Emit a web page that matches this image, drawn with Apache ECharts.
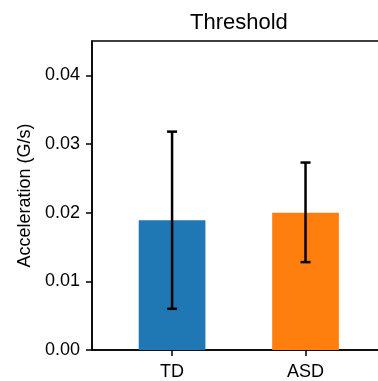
<!DOCTYPE html>
<html>
<head>
<meta charset="utf-8">
<script src="https://cdn.jsdelivr.net/npm/echarts@6/dist/echarts.min.js"></script>
<style>html,body{margin:0;padding:0;background:#fff;}#c{width:378px;height:381px;}</style>
</head>
<body>
<div id="c"></div>
<script>
var categories = ['TD', 'ASD'];
var means = [0.0189, 0.0200];
var errLow = [0.0060, 0.0128];
var errHigh = [0.0318, 0.0273];
var colors = ['#1f77b4', '#ff7f0e'];
var yTicks = [0, 0.01, 0.02, 0.03, 0.04];
var xPositions = [0, 1];

var font = 'Liberation Sans, Arial, sans-serif';
var chart = echarts.init(document.getElementById('c'));

var barData = means.map(function (m, i) {
  return { value: [xPositions[i], m], itemStyle: { color: colors[i] } };
});
var errData = means.map(function (m, i) {
  return [xPositions[i], errLow[i], errHigh[i]];
});

chart.setOption({
  animation: false,
  backgroundColor: '#fff',
  title: {
    text: 'Threshold',
    left: 190,
    top: 12,
    padding: 0,
    textStyle: { fontFamily: font, fontSize: 22, fontWeight: 'normal', color: '#000' }
  },
  grid: {
    left: 92, top: 41, width: 293.6, bottom: 31,
    outerBoundsMode: 'none',
    containLabel: false,
    show: true, borderColor: '#000', borderWidth: 1.5, backgroundColor: 'transparent'
  },
  xAxis: {
    type: 'value',
    min: -0.6, max: 1.6,
    axisLine: { show: true, onZero: false, lineStyle: { color: '#000', width: 1.5 } },
    axisTick: { show: true, length: 6, lineStyle: { color: '#000', width: 1.5 }, customValues: xPositions },
    axisLabel: {
      show: true, customValues: xPositions, margin: 13,
      fontFamily: font, fontSize: 18, color: '#000',
      formatter: function (v) { var i = xPositions.indexOf(v); return i >= 0 ? categories[i] : ''; }
    },
    splitLine: { show: false }
  },
  yAxis: {
    type: 'value',
    min: 0, max: 0.045,
    name: 'Acceleration (G/s)',
    nameLocation: 'middle',
    nameGap: 58,
    nameTextStyle: { fontFamily: font, fontSize: 18, color: '#000' },
    axisLine: { show: true, onZero: false, lineStyle: { color: '#000', width: 1.5 } },
    axisTick: { show: true, length: 6, lineStyle: { color: '#000', width: 1.5 }, customValues: yTicks },
    axisLabel: {
      customValues: yTicks, margin: 12,
      fontFamily: font, fontSize: 18, color: '#000',
      formatter: function (v) { return v.toFixed(2); }
    },
    splitLine: { show: false }
  },
  series: [
    {
      type: 'bar',
      data: barData,
      barWidth: 66.7,
      z: 2
    },
    {
      type: 'custom',
      z: 5,
      data: errData,
      renderItem: function (params, api) {
        var x = api.value(0);
        var lo = api.coord([x, api.value(1)]);
        var hi = api.coord([x, api.value(2)]);
        var cap = 5;
        var st = { stroke: '#000', lineWidth: 2.5 };
        return {
          type: 'group',
          children: [
            { type: 'line', shape: { x1: lo[0], y1: lo[1], x2: hi[0], y2: hi[1] }, style: st },
            { type: 'line', shape: { x1: hi[0] - cap, y1: hi[1], x2: hi[0] + cap, y2: hi[1] }, style: st },
            { type: 'line', shape: { x1: lo[0] - cap, y1: lo[1], x2: lo[0] + cap, y2: lo[1] }, style: st }
          ]
        };
      }
    }
  ]
});
</script>
</body>
</html>
